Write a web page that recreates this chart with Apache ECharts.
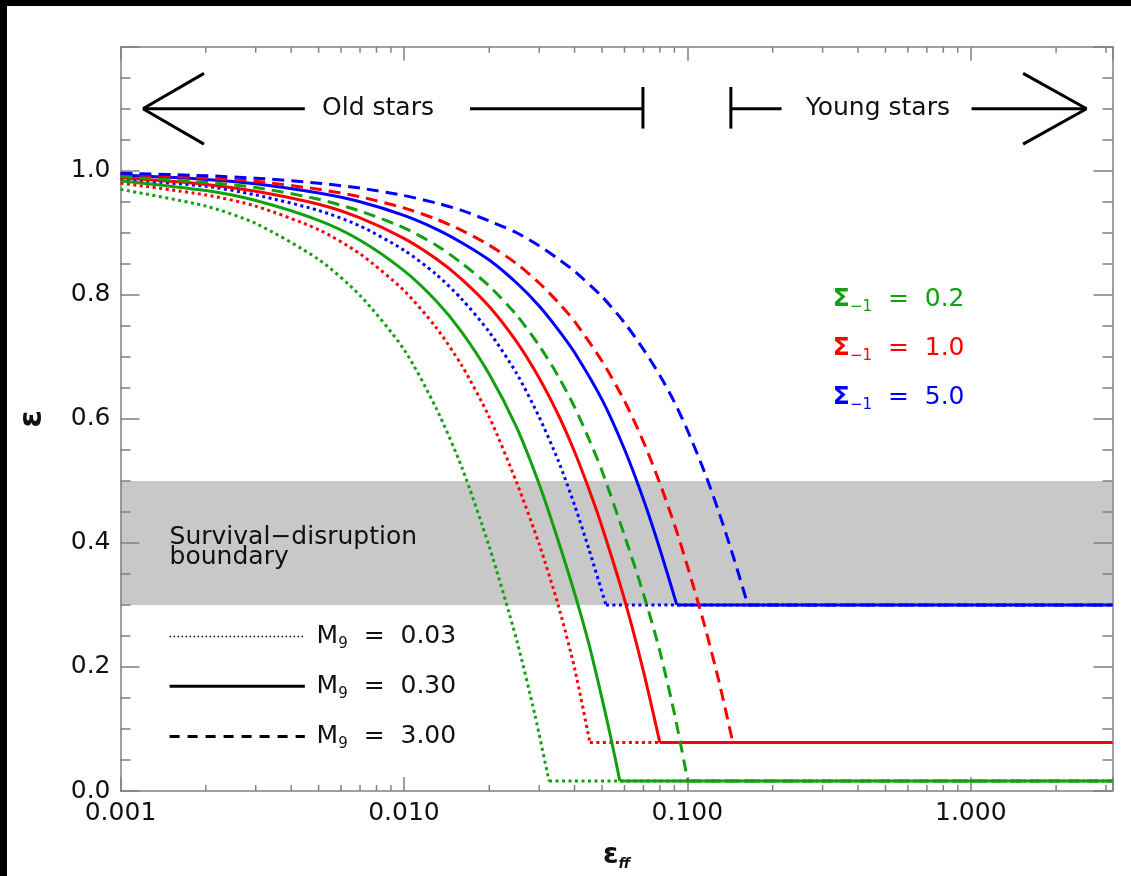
<!DOCTYPE html>
<html>
<head>
<meta charset="utf-8">
<script src="https://cdn.jsdelivr.net/npm/echarts@6/dist/echarts.min.js"></script>
<style>
  html, body { margin: 0; padding: 0; background: #fff; }
  #chart { width: 1131px; height: 876px; }
</style>
</head>
<body>
<div id="chart"></div>
<script>
// ---- axis ticks ----
const xTickValues = [0.001, 0.01, 0.1, 1];
const xTickLabels = ['0.001', '0.010', '0.100', '1.000'];
const yTickLabels = ['0.0', '0.2', '0.4', '0.6', '0.8', '1.0'];
const xMinorTicks = [0.002, 0.003, 0.004, 0.005, 0.006, 0.007, 0.008, 0.009,
                     0.02, 0.03, 0.04, 0.05, 0.06, 0.07, 0.08, 0.09,
                     0.2, 0.3, 0.4, 0.5, 0.6, 0.7, 0.8, 0.9, 2, 3];
const X_MIN = 0.001, X_MAX = 3.1623, Y_MIN = 0, Y_MAX = 1.2;

// survival-disruption band (ε range)
const bandRange = [0.3, 0.5];

// ---- ε as a function of ε_ff ----
// the last two points of each curve are the start and end of its floor
// Σ_-1 = 0.2 (green)
const effG003 = [0.001, 0.002, 0.003, 0.005, 0.007, 0.01, 0.013, 0.016, 0.02, 0.025, 0.029, 0.0325, 3.1623];
const epsG003 = [0.970, 0.943, 0.915, 0.857, 0.799, 0.712, 0.617, 0.522, 0.394, 0.243, 0.122, 0.016, 0.016];
const effG030 = [0.001, 0.002, 0.003, 0.005, 0.007, 0.01, 0.013, 0.016, 0.02, 0.025, 0.03, 0.035, 0.04, 0.045, 0.05, 0.054, 0.0578, 3.1623];
const epsG030 = [0.984, 0.968, 0.952, 0.920, 0.888, 0.839, 0.790, 0.740, 0.672, 0.586, 0.495, 0.404, 0.319, 0.236, 0.149, 0.081, 0.016, 0.016];
const effG300 = [0.001, 0.002, 0.003, 0.005, 0.007, 0.01, 0.013, 0.016, 0.02, 0.025, 0.03, 0.035, 0.04, 0.045, 0.05, 0.06, 0.07, 0.08, 0.09, 0.1004, 3.1623];
const epsG300 = [0.991, 0.981, 0.973, 0.954, 0.935, 0.908, 0.880, 0.851, 0.814, 0.767, 0.718, 0.669, 0.619, 0.567, 0.516, 0.412, 0.318, 0.225, 0.125, 0.016, 0.016];
// Σ_-1 = 1.0 (red)
const effR003 = [0.001, 0.002, 0.003, 0.005, 0.007, 0.01, 0.013, 0.016, 0.02, 0.025, 0.03, 0.035, 0.04, 0.0453, 3.1623];
const epsR003 = [0.980, 0.961, 0.943, 0.905, 0.866, 0.807, 0.747, 0.686, 0.603, 0.497, 0.398, 0.300, 0.198, 0.078, 0.078];
const effR030 = [0.001, 0.002, 0.003, 0.005, 0.007, 0.01, 0.013, 0.016, 0.02, 0.025, 0.03, 0.035, 0.04, 0.045, 0.05, 0.06, 0.07, 0.08, 3.1623];
const epsR030 = [0.989, 0.978, 0.967, 0.946, 0.924, 0.891, 0.858, 0.825, 0.781, 0.724, 0.666, 0.607, 0.547, 0.486, 0.426, 0.309, 0.193, 0.078, 0.078];
const effR300 = [0.001, 0.002, 0.003, 0.005, 0.007, 0.01, 0.013, 0.016, 0.02, 0.025, 0.03, 0.035, 0.04, 0.05, 0.06, 0.07, 0.08, 0.09, 0.1, 0.115, 0.13, 0.1447, 3.1623];
const epsR300 = [0.995, 0.988, 0.983, 0.970, 0.958, 0.940, 0.922, 0.904, 0.880, 0.850, 0.819, 0.788, 0.757, 0.693, 0.629, 0.563, 0.496, 0.430, 0.363, 0.267, 0.172, 0.078, 0.078];
// Σ_-1 = 5.0 (blue)
const effB003 = [0.001, 0.002, 0.003, 0.005, 0.007, 0.01, 0.013, 0.016, 0.02, 0.025, 0.03, 0.035, 0.04, 0.045, 0.0516, 3.1623];
const epsB003 = [0.986, 0.975, 0.961, 0.936, 0.911, 0.872, 0.833, 0.793, 0.740, 0.673, 0.603, 0.533, 0.461, 0.389, 0.300, 0.300];
const effB030 = [0.001, 0.002, 0.003, 0.005, 0.007, 0.01, 0.013, 0.016, 0.02, 0.025, 0.03, 0.035, 0.04, 0.05, 0.06, 0.07, 0.08, 0.0918, 3.1623];
const epsB030 = [0.993, 0.986, 0.979, 0.964, 0.950, 0.928, 0.906, 0.884, 0.856, 0.819, 0.782, 0.744, 0.707, 0.631, 0.551, 0.470, 0.390, 0.300, 0.300];
const effB300 = [0.001, 0.002, 0.003, 0.005, 0.007, 0.01, 0.013, 0.016, 0.02, 0.025, 0.03, 0.035, 0.04, 0.05, 0.06, 0.07, 0.08, 0.09, 0.1, 0.115, 0.13, 0.145, 0.1635, 3.1623];
const epsB300 = [0.996, 0.992, 0.988, 0.980, 0.972, 0.960, 0.948, 0.936, 0.919, 0.900, 0.879, 0.858, 0.838, 0.797, 0.755, 0.712, 0.670, 0.627, 0.582, 0.514, 0.446, 0.379, 0.300, 0.300];

const sigmaLabels = ['0.2', '1.0', '5.0'];
const massLabels = ['0.03', '0.30', '3.00'];

// ---- styles ----
const FONT = 'DejaVu Sans';
const AXIS_COLOR = '#808080';
const TEXT_COLOR = '#111';
const GREEN = '#10a010', RED = '#ff0000', BLUE = '#0000ff';
const DOT = [3, 3.5], DASH = [12, 7];

// each curve: a smooth falling part, then a straight floor
function curve(name, xs, ys, color, dash, width) {
  const pts = xs.map((x, i) => [x, ys[i]]);
  const n = pts.length;
  const style = { color, width, type: dash, cap: 'butt' };
  const common = { type: 'line', xAxisIndex: 0, yAxisIndex: 0, showSymbol: false,
                   symbol: 'none', silent: true, z: 4, lineStyle: style };
  return [
    Object.assign({ name: name + ' fall', data: pts.slice(0, n - 1), smooth: 0.25 }, common),
    Object.assign({ name: name + ' floor', data: pts.slice(n - 2) }, common)
  ];
}

const chart = echarts.init(document.getElementById('chart'), null, { renderer: 'canvas' });

const xAxisBase = {
  type: 'log', logBase: 10, min: X_MIN, max: X_MAX, z: 3,
  splitLine: { show: false },
  axisLine: { show: true, onZero: false, lineStyle: { color: AXIS_COLOR, width: 1.5 } },
  axisTick: { show: true, inside: true, length: 14, lineStyle: { color: AXIS_COLOR, width: 1.5 } },
  minorTick: { show: false }
};
const yAxisBase = {
  type: 'value', min: Y_MIN, max: Y_MAX, interval: 0.2, z: 3,
  splitLine: { show: false },
  axisLine: { show: true, onZero: false, lineStyle: { color: AXIS_COLOR, width: 1.5 } },
  axisTick: { show: true, inside: true, length: 19, lineStyle: { color: AXIS_COLOR, width: 1.5 } },
  minorTick: { show: true, splitNumber: 4, length: 10, lineStyle: { color: AXIS_COLOR, width: 1.5 } }
};

chart.setOption({
  animation: false,
  backgroundColor: '#fff',
  grid: { left: 120.5, right: 18.5, top: 46.7, bottom: 78.5, containLabel: false },
  xAxis: [
    Object.assign({}, xAxisBase, {
      position: 'bottom',
      axisLabel: {
        fontFamily: FONT, fontSize: 25, color: TEXT_COLOR, margin: 10,
        formatter: v => {
          const i = xTickValues.findIndex(t => Math.abs(Math.log10(v) - Math.log10(t)) < 1e-6);
          return i >= 0 ? xTickLabels[i] : '';
        }
      },
      name: '{e|ε}{s|ff}', nameLocation: 'middle', nameGap: 50,
      nameTextStyle: {
        rich: {
          e: { fontFamily: FONT, fontSize: 28, fontWeight: 'bold', color: TEXT_COLOR, lineHeight: 30 },
          s: { fontFamily: FONT, fontSize: 14, fontWeight: 'bold', fontStyle: 'italic', color: TEXT_COLOR, verticalAlign: 'bottom', lineHeight: 12 }
        }
      }
    }),
    Object.assign({}, xAxisBase, { position: 'top', axisLabel: { show: false } })
  ],
  yAxis: [
    Object.assign({}, yAxisBase, {
      position: 'left',
      axisLabel: {
        fontFamily: FONT, fontSize: 25, color: TEXT_COLOR, margin: 10,
        formatter: v => {
          const i = Math.round(v / 0.2);
          return (Math.abs(v - i * 0.2) < 1e-6 && i < yTickLabels.length) ? yTickLabels[i] : '';
        }
      },
      name: 'ε', nameLocation: 'middle', nameGap: 72, nameRotate: 90,
      nameTextStyle: { fontFamily: FONT, fontSize: 32, fontWeight: 'bold', color: TEXT_COLOR }
    }),
    Object.assign({}, yAxisBase, { position: 'right', axisLabel: { show: false } })
  ],
  series: [
    {
      type: 'custom', name: 'band', silent: true, z: 1,
      data: [bandRange],
      renderItem: (params, api) => {
        const tl = api.coord([X_MIN, api.value(1)]);
        const br = api.coord([X_MAX, api.value(0)]);
        return { type: 'rect', shape: { x: tl[0], y: tl[1], width: br[0] - tl[0], height: br[1] - tl[1] },
                 style: { fill: '#c8c8c8' } };
      }
    },
    {
      type: 'custom', name: 'minor ticks', silent: true, z: 3,
      data: xMinorTicks.map(v => [v, Y_MIN]),
      renderItem: (params, api) => {
        const v = api.value(0);
        const b = api.coord([v, Y_MIN]);
        const t = api.coord([v, Y_MAX]);
        const st = { stroke: AXIS_COLOR, lineWidth: 1.5 };
        return { type: 'group', children: [
          { type: 'line', shape: { x1: b[0], y1: b[1], x2: b[0], y2: b[1] - 6 }, style: st },
          { type: 'line', shape: { x1: t[0], y1: t[1], x2: t[0], y2: t[1] + 6 }, style: st }
        ] };
      }
    },
    ...curve('G 0.03', effG003, epsG003, GREEN, DOT, 3),
    ...curve('R 0.03', effR003, epsR003, RED, DOT, 3),
    ...curve('B 0.03', effB003, epsB003, BLUE, DOT, 3),
    ...curve('G 0.30', effG030, epsG030, GREEN, 'solid', 3),
    ...curve('R 0.30', effR030, epsR030, RED, 'solid', 3),
    ...curve('B 0.30', effB030, epsB030, BLUE, 'solid', 3),
    ...curve('G 3.00', effG300, epsG300, GREEN, DASH, 3),
    ...curve('R 3.00', effR300, epsR300, RED, DASH, 3),
    ...curve('B 3.00', effB300, epsB300, BLUE, DASH, 3)
  ]
});

// ---- annotations placed in data space ----
const px = p => chart.convertToPixel({ xAxisIndex: 0, yAxisIndex: 0 }, p);
const seg = (a, b, w, color, dash) => {
  const p = px(a), q = px(b);
  return { type: 'line', z: 10, silent: true,
           shape: { x1: p[0], y1: p[1], x2: q[0], y2: q[1] },
           style: { stroke: color || '#000', lineWidth: w || 3, lineDash: dash || null, lineCap: 'butt' } };
};
const label = (p, text, opts) => {
  const q = px(p);
  return { type: 'text', z: 10, silent: true, x: q[0], y: q[1],
           style: Object.assign({ text, fontFamily: FONT, fontSize: 25, fill: TEXT_COLOR,
                                  align: 'left', verticalAlign: 'middle' }, opts || {}) };
};

const ARROW_Y = 1.10, ARM_UP = 1.157, ARM_DN = 1.043, BAR_UP = 1.135, BAR_DN = 1.068;
const rich = {
  s: { fontFamily: FONT, fontSize: 25, fontWeight: 'bold', lineHeight: 30 },
  t: { fontFamily: FONT, fontSize: 25, lineHeight: 30 },
  sub: { fontFamily: FONT, fontSize: 15, verticalAlign: 'bottom', lineHeight: 14 }
};
const sigmaColors = [GREEN, RED, BLUE];
const sigmaY = [0.792, 0.714, 0.634];
const legendY = [0.249, 0.169, 0.088];
const legendDash = [[1.5, 2.5], null, [10, 8]];
const legendWidth = [1.5, 3, 3];

const graphics = [
  // outer dark border strips
  { type: 'rect', shape: { x: 0, y: 0, width: 1131, height: 6 }, style: { fill: '#000' }, z: 20 },
  { type: 'rect', shape: { x: 0, y: 0, width: 7, height: 876 }, style: { fill: '#000' }, z: 20 },
  // "Old stars" arrow
  seg([0.0012, ARROW_Y], [0.00197, ARM_UP]),
  seg([0.0012, ARROW_Y], [0.00197, ARM_DN]),
  seg([0.0012, ARROW_Y], [0.00447, ARROW_Y]),
  label([0.0081, ARROW_Y], 'Old stars', { align: 'center' }),
  seg([0.0171, ARROW_Y], [0.0697, ARROW_Y]),
  seg([0.0697, BAR_DN], [0.0697, BAR_UP]),
  // "Young stars" arrow
  seg([0.1424, BAR_DN], [0.1424, BAR_UP]),
  seg([0.1424, ARROW_Y], [0.215, ARROW_Y]),
  label([0.47, ARROW_Y], 'Young stars', { align: 'center' }),
  seg([1.006, ARROW_Y], [2.562, ARROW_Y]),
  seg([2.562, ARROW_Y], [1.53, ARM_UP]),
  seg([2.562, ARROW_Y], [1.53, ARM_DN]),
  // band caption
  label([0.00149, 0.393], 'Survival\u2212disruption\nboundary', { lineHeight: 20 })
];
sigmaLabels.forEach((s, i) => {
  graphics.push(label([0.326, sigmaY[i]], '{s|\u03A3}{sub|\u22121}{t|  =  ' + s + '}',
    { fill: sigmaColors[i], rich: JSON.parse(JSON.stringify(rich)) }));
});
massLabels.forEach((m, i) => {
  graphics.push(seg([0.00149, legendY[i]], [0.00447, legendY[i]], legendWidth[i], '#000', legendDash[i]));
  graphics.push(label([0.00492, legendY[i]], '{t|M}{sub|9}{t|  =  ' + m + '}', { rich: JSON.parse(JSON.stringify(rich)) }));
});
chart.setOption({ graphic: graphics });
</script>
</body>
</html>
